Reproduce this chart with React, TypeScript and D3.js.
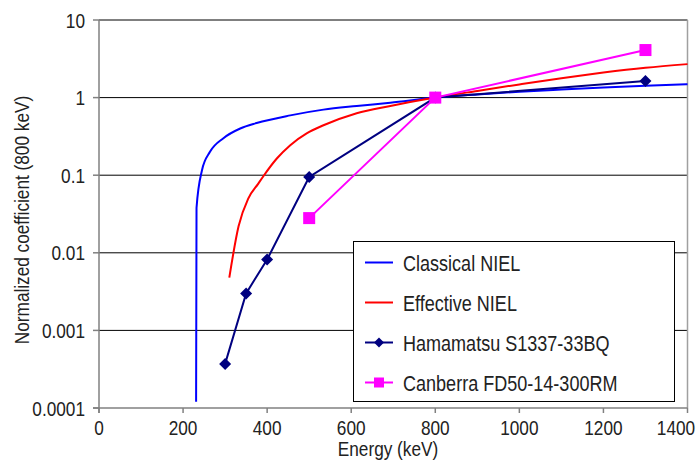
import { useEffect, useRef } from 'react'
import * as d3 from 'd3'

const classicalE = [231, 232, 245, 264, 296, 336, 375, 455, 534, 613, 693, 800, 900, 1000, 1100, 1200, 1300, 1400]
const classicalV = [0.00012, 0.038, 0.116, 0.2, 0.3, 0.4, 0.47, 0.59, 0.7, 0.78, 0.86, 1, 1.1, 1.19, 1.27, 1.35, 1.42, 1.49]
const effectiveE = [310, 332, 355, 379, 391, 423, 455, 494, 534, 613, 693, 800, 900, 1000, 1100, 1200, 1300, 1400]
const effectiveV = [0.0048, 0.022, 0.05, 0.078, 0.097, 0.164, 0.244, 0.346, 0.44, 0.63, 0.78, 1, 1.22, 1.48, 1.78, 2.1, 2.42, 2.7]
const hamamatsuE = [300, 350, 400, 500, 800, 1300]
const hamamatsuV = [0.00037, 0.003, 0.0082, 0.095, 1, 1.64]
const canberraE = [500, 800, 1300]
const canberraV = [0.028, 1, 4.1]

const xTicks = [0, 200, 400, 600, 800, 1000, 1200, 1400]
const yTicks = [0.0001, 0.001, 0.01, 0.1, 1, 10]
const yTickLabels = ['0.0001', '0.001', '0.01', '0.1', '1', '10']

const FONT = "'Liberation Sans', Arial, sans-serif"
const NARROW = 0.82

type Pt = { e: number; v: number }
const zip = (es: number[], vs: number[]): Pt[] => es.map((e, i) => ({ e, v: vs[i] }))

const series = [
  { name: 'Classical NIEL', color: '#0000ff', pts: zip(classicalE, classicalV), smooth: true, marker: 'none' },
  { name: 'Effective NIEL', color: '#ff0000', pts: zip(effectiveE, effectiveV), smooth: true, marker: 'none' },
  { name: 'Hamamatsu S1337-33BQ', color: '#000080', pts: zip(hamamatsuE, hamamatsuV), smooth: false, marker: 'diamond' },
  { name: 'Canberra FD50-14-300RM', color: '#ff00ff', pts: zip(canberraE, canberraV), smooth: false, marker: 'square' },
]

export default function App() {
  const ref = useRef<SVGSVGElement | null>(null)
  useEffect(() => {
    const width = 700
    const height = 464
    const svg = d3.select(ref.current)
    svg.selectAll('*').remove()
    svg.attr('width', width).attr('height', height).style('font-family', FONT)

    const left = 99
    const right = 687.5
    const top = 20
    const bottom = 408
    const x = d3.scaleLinear().domain([0, 1400]).range([left, right])
    const y = d3.scaleLog().domain([0.0001, 10]).range([bottom, top])

    // condensed text: Helvetica Narrow look via horizontal squeeze
    const label = (parent: any, tx: number, ty: number, txt: string, size: number, anchor: string, rot = 0) =>
      parent.append('g')
        .attr('transform', `translate(${tx},${ty})${rot ? ` rotate(${rot})` : ''} scale(${NARROW},1)`)
        .append('text')
        .attr('text-anchor', anchor)
        .attr('font-size', size)
        .attr('fill', '#222')
        .text(txt)

    svg.append('rect').attr('width', width).attr('height', height).attr('fill', '#fff')

    // gridlines
    svg.selectAll(null)
      .data(yTicks.slice(1))
      .enter()
      .append('line')
      .attr('x1', left)
      .attr('x2', right)
      .attr('y1', (d: number) => y(d))
      .attr('y2', (d: number) => y(d))
      .attr('stroke', '#000')
      .attr('stroke-width', 1)

    svg.append('line').attr('x1', right).attr('x2', right).attr('y1', top).attr('y2', bottom)
      .attr('stroke', '#a0a0a0').attr('stroke-width', 1.5)

    // axes
    svg.append('line').attr('x1', left).attr('x2', left).attr('y1', top).attr('y2', bottom + 5)
      .attr('stroke', '#808080').attr('stroke-width', 1.5)
    svg.append('line').attr('x1', left - 6).attr('x2', right).attr('y1', bottom).attr('y2', bottom)
      .attr('stroke', '#808080').attr('stroke-width', 1.5)

    svg.selectAll(null).data(yTicks).enter().append('line')
      .attr('x1', left - 6).attr('x2', left)
      .attr('y1', (d: number) => y(d)).attr('y2', (d: number) => y(d))
      .attr('stroke', '#808080').attr('stroke-width', 1.5)
    svg.selectAll(null).data(xTicks).enter().append('line')
      .attr('x1', (d: number) => x(d)).attr('x2', (d: number) => x(d))
      .attr('y1', bottom).attr('y2', bottom + 5)
      .attr('stroke', '#808080').attr('stroke-width', 1.5)

    yTicks.forEach((d, i) => label(svg, left - 14, y(d) + 7.5, yTickLabels[i], 21, 'end'))
    // last x label is pulled in so it stays inside the frame
    xTicks.forEach((d) => label(svg, Math.min(x(d), 676), 435, String(d), 21, 'middle'))

    label(svg, 388, 456, 'Energy (keV)', 21, 'middle')
    label(svg, 29, 220, 'Normalized coefficient (800 keV)', 21, 'middle', -90)

    const line = (smooth: boolean) => d3.line<Pt>()
      .x((d: Pt) => x(d.e))
      .y((d: Pt) => y(d.v))
      .curve(smooth ? d3.curveMonotoneX : d3.curveLinear)

    const drawMarker = (g: any, kind: string, cx: number, cy: number, color: string, s: number) => {
      if (kind === 'diamond') {
        g.append('path').attr('d', `M${cx},${cy - s}L${cx + s},${cy}L${cx},${cy + s}L${cx - s},${cy}Z`).attr('fill', color)
      } else if (kind === 'square') {
        g.append('rect').attr('x', cx - s).attr('y', cy - s).attr('width', 2 * s).attr('height', 2 * s).attr('fill', color)
      }
    }

    for (const s of series) {
      svg.append('path').datum(s.pts)
        .attr('fill', 'none')
        .attr('stroke', s.color)
        .attr('stroke-width', 2)
        .attr('d', line(s.smooth) as any)
      const g = svg.append('g')
      for (const p of s.pts) drawMarker(g, s.marker, x(p.e), y(p.v), s.color, 6)
    }

    // legend
    const lg = svg.append('g')
    lg.append('rect').attr('x', 353.5).attr('y', 241.5).attr('width', 321).attr('height', 160)
      .attr('fill', '#fff').attr('stroke', '#000').attr('stroke-width', 1)
    series.forEach((s, i) => {
      const ly = 262.5 + i * 40
      lg.append('line').attr('x1', 365).attr('x2', 393).attr('y1', ly).attr('y2', ly)
        .attr('stroke', s.color).attr('stroke-width', 2)
      drawMarker(lg, s.marker, 379, ly, s.color, 5)
      label(lg, 403, ly + 8, s.name, 22, 'start')
    })
  }, [])
  return <svg ref={ref} style={{ position: 'absolute', left: 0, top: 0 }} />
}
